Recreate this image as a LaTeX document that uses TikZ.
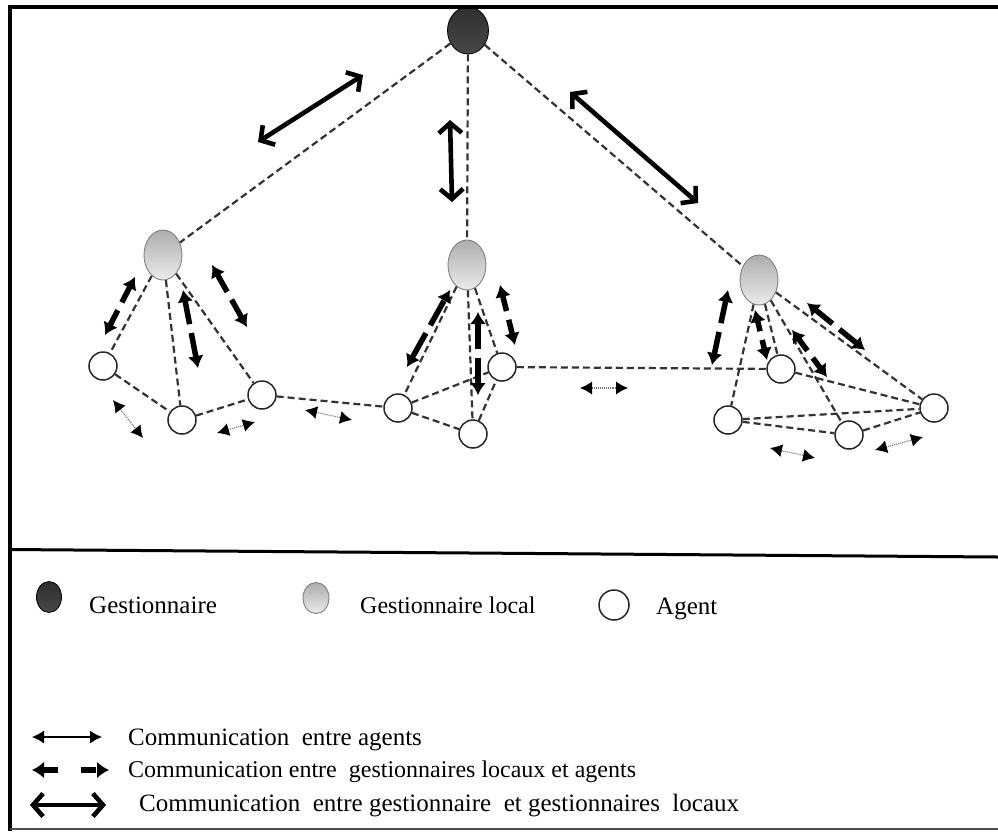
\documentclass[tikz,border=0pt]{standalone}
\usepackage{fontspec}
\setmainfont{Liberation Serif}
\usetikzlibrary{arrows.meta,shapes.geometric}
\begin{document}
\begin{tikzpicture}[x=1pt,y=-1pt,
  gest/.style={ellipse, inner sep=0pt, minimum width=41pt, minimum height=47pt,
    draw=black, line width=0.8pt, top color=black!82, middle color=black, bottom color=black!72},
  local/.style={ellipse, inner sep=0pt, minimum width=38pt, minimum height=50pt,
    draw=black!50, line width=0.9pt, top color=black!32, middle color=black!38, bottom color=black!8},
  agent/.style={circle, inner sep=0pt, minimum size=28pt, draw=black!85, line width=1.5pt, fill=white},
  link/.style={line width=2.2pt, draw=black!80, dash pattern=on 7pt off 4pt},
  mlink/.style={line width=4.6pt, {Straight Barb[length=10pt,width=23pt]}-{Straight Barb[length=10pt,width=23pt]}},
  llink/.style={line width=5.5pt, dash pattern=on #1 off 9pt,
    {Latex[length=12pt,width=16pt]}-{Latex[length=12pt,width=16pt]}},
  alink/.style={line width=1.1pt, draw=black!55, densely dotted,
    {Latex[length=12pt,width=13pt,color=black]}-{Latex[length=12pt,width=13pt,color=black]}},
  keytext/.style={anchor=base west, inner sep=0pt},
]
\useasboundingbox (0,0) rectangle (998,831);

% manager, local managers and agents
\node[gest] (G) at (468,30.5) {};
\node[local] (L1) at (163,255) {};
\node[local] (L2) at (467,265) {};
\node[local] (L3) at (759,280) {};

\node[agent] (A1) at (103,366) {};
\node[agent] (A2) at (182,420) {};
\node[agent] (A3) at (262,395) {};
\node[agent] (A4) at (398,408) {};
\node[agent] (A5) at (473,434) {};
\node[agent] (A6) at (502,367) {};
\node[agent] (A7) at (781,369) {};
\node[agent] (A8) at (728,420) {};
\node[agent] (A9) at (849,435) {};
\node[agent] (A10) at (934,408) {};

% dashed links
\draw[link] (G) -- (L1);
\draw[link] (G) -- (L2);
\draw[link] (G) -- (L3);
\draw[link] (L1) -- (A1);
\draw[link] (L1) -- (A2);
\draw[link] (L1) -- (A3);
\draw[link] (A1) -- (A2);
\draw[link] (A2) -- (A3);
\draw[link] (A3) -- (A4);
\draw[link] (L2) -- (A4);
\draw[link] (L2) -- (A5);
\draw[link] (L2) -- (A6);
\draw[link] (A4) -- (A6);
\draw[link] (A4) -- (A5);
\draw[link] (A5) -- (A6);
\draw[link] (A6) -- (A7);
\draw[link] (L3) -- (A7);
\draw[link] (L3) -- (A8);
\draw[link] (L3) -- (A9);
\draw[link] (L3) -- (A10);
\draw[link] (A7) -- (A10);
\draw[link] (A8) -- (A10);
\draw[link] (A8) -- (A9);
\draw[link] (A9) -- (A10);

% manager <-> local manager communication
\coordinate (m1a) at (258,142); \coordinate (m1b) at (363,75);
\coordinate (m2a) at (450,120); \coordinate (m2b) at (452,202);
\coordinate (m3a) at (570,92);  \coordinate (m3b) at (698,203);
\draw[mlink] (m1a) -- (m1b);
\draw[mlink] (m2a) -- (m2b);
\draw[mlink] (m3a) -- (m3b);

% local manager <-> agent communication
\coordinate (la1) at (105,335); \coordinate (lb1) at (135,277);
\coordinate (la2) at (183,290); \coordinate (lb2) at (198,368);
\coordinate (la3) at (212,265); \coordinate (lb3) at (247,327);
\coordinate (la4) at (407,367); \coordinate (lb4) at (450,290);
\coordinate (la5) at (478,312); \coordinate (lb5) at (478,395);
\coordinate (la6) at (500,285); \coordinate (lb6) at (515,345);
\coordinate (la7) at (712,365); \coordinate (lb7) at (728,290);
\coordinate (la8) at (755,310); \coordinate (lb8) at (767,360);
\coordinate (la9) at (792,330); \coordinate (lb9) at (827,377);
\coordinate (la10) at (807,303); \coordinate (lb10) at (865,350);
\draw[llink=17pt] (la1) -- (lb1);
\draw[llink=24pt] (la2) -- (lb2);
\draw[llink=20pt] (la3) -- (lb3);
\draw[llink=28pt] (la4) -- (lb4);
\draw[llink=26pt] (la5) -- (lb5);
\draw[llink=16pt] (la6) -- (lb6);
\draw[llink=23pt] (la7) -- (lb7);
\draw[llink=11pt] (la8) -- (lb8);
\draw[llink=15pt] (la9) -- (lb9);
\draw[llink=22pt] (la10) -- (lb10);

% agent <-> agent communication
\coordinate (aa1) at (113,400); \coordinate (ab1) at (143,438);
\coordinate (aa2) at (217,433); \coordinate (ab2) at (255,422);
\coordinate (aa3) at (305,410); \coordinate (ab3) at (352,420);
\coordinate (aa4) at (580,388); \coordinate (ab4) at (628,388);
\coordinate (aa5) at (770,448); \coordinate (ab5) at (815,458);
\coordinate (aa6) at (875,450); \coordinate (ab6) at (923,437);
\draw[alink] (aa1) -- (ab1);
\draw[alink] (aa2) -- (ab2);
\draw[alink] (aa3) -- (ab3);
\draw[alink] (aa4) -- (ab4);
\draw[alink] (aa5) -- (ab5);
\draw[alink] (aa6) -- (ab6);

% frame
\draw[line width=4pt] (7.5,6.5) -- (998,6.5);
\draw[line width=4pt] (9.5,4.5) -- (9.5,831);
\draw[line width=3pt] (9.5,549.5) -- (998,557);
\draw[line width=1.5pt, black!70] (9.5,829) -- (998,829);

% key
\node[gest, minimum width=25pt, minimum height=31pt] (kG) at (49,597) {};
\node[keytext] (tG) at (89,613) {\fontsize{25}{30}\selectfont Gestionnaire};
\node[local, minimum width=26pt, minimum height=31pt] (kL) at (316,598) {};
\node[keytext] (tL) at (360,613) {\fontsize{24}{29}\selectfont Gestionnaire local};
\node[agent, minimum size=30pt] (kA) at (614,605) {};
\node[keytext] (tA) at (656,614) {\fontsize{25}{30}\selectfont Agent};

\coordinate (k1a) at (32,737);  \coordinate (k1b) at (102,737);
\coordinate (k2a) at (32,770);  \coordinate (k2b) at (109,770);
\coordinate (k3a) at (30,805);  \coordinate (k3b) at (106,805);
\draw[alink, draw=black, solid] (k1a) -- (k1b);
\draw[line width=6pt, dash pattern=on 15pt off 23pt,
  {Latex[length=12pt,width=17pt]}-{Latex[length=12pt,width=17pt]}] (k2a) -- (k2b);
\draw[mlink] (k3a) -- (k3b);
\node[keytext] (t1) at (128,745) {\fontsize{25}{30}\selectfont Communication\ \ entre agents};
\node[keytext] (t2) at (128,777) {\fontsize{24}{29}\selectfont Communication entre\ \ gestionnaires locaux et agents};
\node[keytext] (t3) at (139,811) {\fontsize{25}{30}\selectfont Communication\ \ entre gestionnaire\ \ et gestionnaires\ \ locaux};
\end{tikzpicture}
\end{document}
